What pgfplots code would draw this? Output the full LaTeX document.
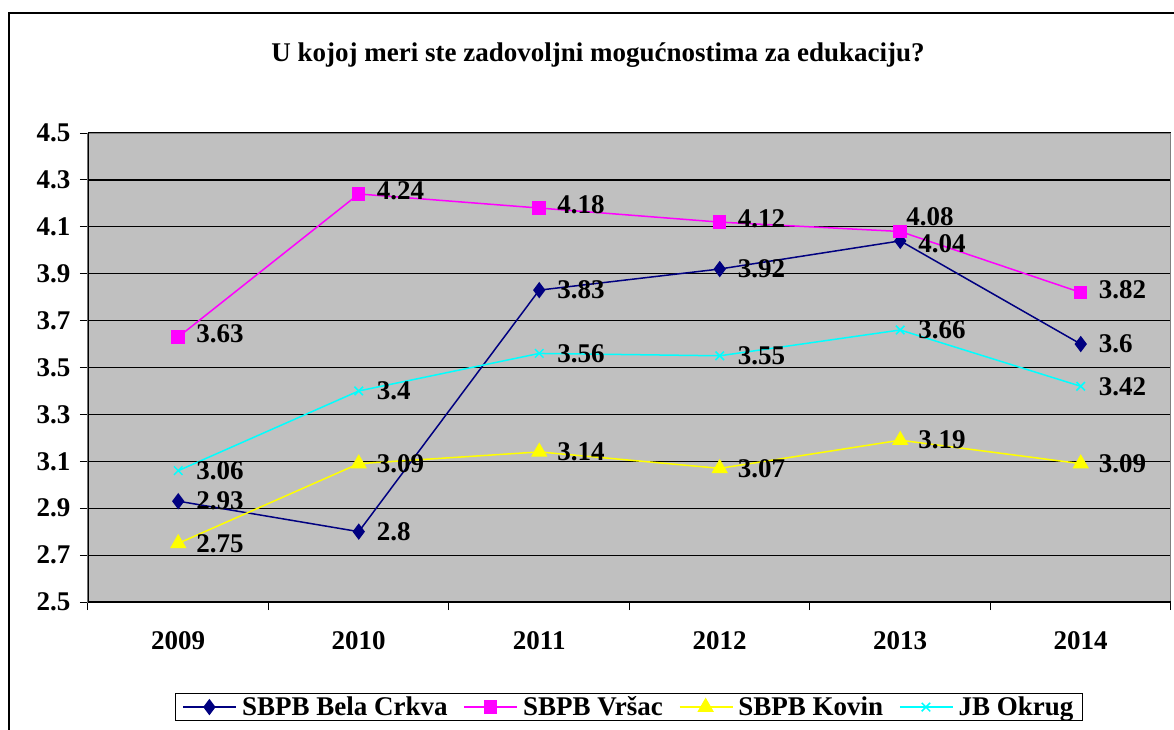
\documentclass[border=0pt]{standalone}
\usepackage{pgfplots}
\pgfplotsset{compat=1.18}
\usepackage{fontspec}
\setmainfont{Liberation Serif}
\definecolor{navyc}{RGB}{0,0,128}
\definecolor{magc}{RGB}{255,0,255}
\definecolor{yelc}{RGB}{255,255,0}
\definecolor{cyac}{RGB}{0,255,255}
\definecolor{bgc}{RGB}{192,192,192}
\definecolor{brd}{RGB}{128,128,128}
\newcommand{\lf}{\fontsize{27}{30}\selectfont\bfseries}
\newcommand{\lowlab}[1]{\raisebox{-12pt}[0pt][0pt]{#1}}
\newcommand{\highlab}[1]{\hspace*{-12pt}\raisebox{3pt}[0pt][0pt]{#1}}
\begin{document}
\begin{tikzpicture}
\path[use as bounding box] (-88pt,-127pt) rectangle (1086pt,602pt);
\draw[line width=2pt] (-79pt,-140pt) -- (-79pt,589pt) -- (1100pt,589pt);
\node[font=\lf] at (510pt,547pt) {U kojoj meri ste zadovoljni mogućnostima za edukaciju?};
\begin{axis}[
  at={(0,0)}, anchor=south west,
  scale only axis, width=1083pt, height=469pt,
  xmin=-0.5, xmax=5.5, ymin=2.5, ymax=4.5,
  axis background/.style={fill=bgc},
  axis line style={draw=brd, line width=1pt},
  tick pos=left,
  xtick={0,1,2,3,4,5},
  xticklabels={2009,2010,2011,2012,2013,2014},
  major x tick style={draw=none},
  minor xtick={-0.5,0.5,1.5,2.5,3.5,4.5,5.5},
  minor x tick style={draw=black, line width=1pt},
  minor tick length=8pt,
  ytick={2.5,2.7,...,4.51},
  /pgf/number format/fixed,
  /pgf/number format/fixed zerofill,
  /pgf/number format/precision=1,
  major y tick style={draw=black, line width=1pt},
  major tick length=8pt,
  tick align=outside,
  ymajorgrids,
  grid style={draw=black, line width=1.2pt},
  ticklabel style={font=\lf},
  /pgf/number format/assume math mode=true,
  xticklabel style={yshift=-18pt},
  yticklabel style={xshift=-6pt},
  nodes near coords={\lf\pgfplotspointmeta},
  point meta=explicit symbolic,
  every node near coord/.append style={anchor=west, xshift=14pt, text=black},
  legend columns=4,
  legend style={at={(0.4996,-0.224)}, anchor=center, draw=black, line width=1pt,
    fill=white, font=\lf, inner xsep=7pt, inner ysep=1pt,
    /tikz/every odd column/.append style={column sep=3pt},
    /tikz/every even column/.append style={column sep=14pt}},
  legend image code/.code={\draw[#1, mark repeat=2, mark phase=2] plot coordinates {(0pt,0pt) (26pt,0pt) (53pt,0pt)};},
]
\addplot[navyc, line width=1.5pt, mark=diamond*, mark size=7pt, mark options={fill=navyc, draw=navyc}] coordinates {
(0,2.93) [2.93] (1,2.8) [2.8] (2,3.83) [3.83] (3,3.92) [3.92] (4,4.04) [{\lowlab{4.04}}] (5,3.6) [3.6]};
\addlegendentry{SBPB Bela Crkva}
\addplot[magc, line width=1.5pt, mark=square*, mark size=6pt, mark options={fill=magc, draw=magc},
  nodes near coords style={yshift=3pt}] coordinates {
(0,3.63) [3.63] (1,4.24) [4.24] (2,4.18) [4.18] (3,4.12) [4.12] (4,4.08) [{\highlab{4.08}}] (5,3.82) [3.82]};
\addlegendentry{SBPB Vršac}
\addplot[yelc, line width=1.5pt, mark=triangle*, mark size=8pt, mark options={fill=yelc, draw=yelc}] coordinates {
(0,2.75) [2.75] (1,3.09) [3.09] (2,3.14) [3.14] (3,3.07) [3.07] (4,3.19) [3.19] (5,3.09) [3.09]};
\addlegendentry{SBPB Kovin}
\addplot[cyac, line width=1.5pt, mark=x, mark size=6pt, mark options={draw=cyac, line width=1.5pt}] coordinates {
(0,3.06) [3.06] (1,3.4) [3.4] (2,3.56) [3.56] (3,3.55) [3.55] (4,3.66) [3.66] (5,3.42) [3.42]};
\addlegendentry{JB Okrug}
\draw[black, line width=1.2pt] (rel axis cs:0,0) -- (rel axis cs:0,1);
\draw[black, line width=1.2pt] (rel axis cs:0,0) -- (rel axis cs:1,0);
\end{axis}
\end{tikzpicture}
\end{document}
